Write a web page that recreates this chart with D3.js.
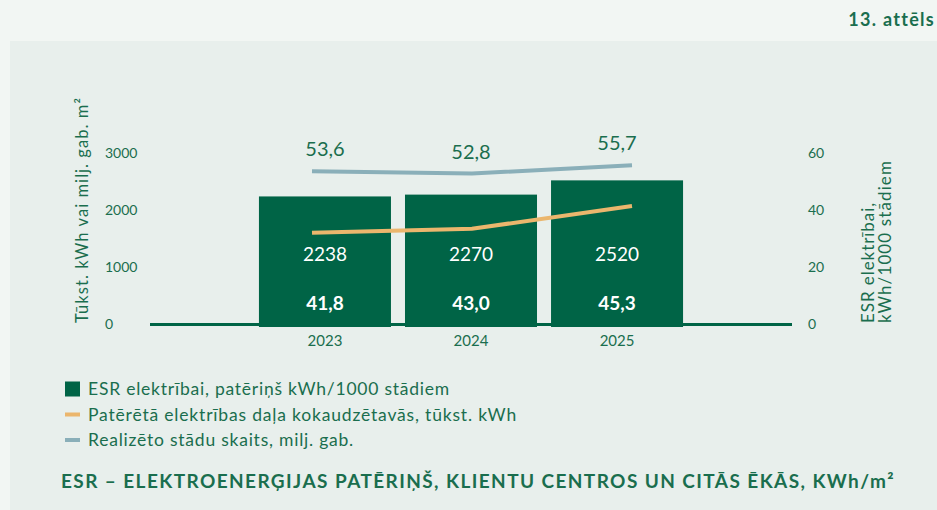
<!DOCTYPE html>
<html lang="lv">
    <head>
        <meta charset="utf-8">
        <title>13. attēls</title>
        <script type="text/javascript" src="https://d3js.org/d3.v7.min.js"></script>
        <style type="text/css">
          body { margin: 0; background: #f2f6f3; }
          text { font-family: Lato, "Open Sans", sans-serif; }
        </style>
    </head>
    <body>
        <script type="text/javascript">
        var w = 937;
        var h = 510;

        // data
        var years = ['2023', '2024', '2025'];
        var barValues = [2238, 2270, 2520];            // tūkst. kWh / milj. gab. m2 (bars)
        var esrValues = ['41,8', '43,0', '45,3'];      // ESR elektrībai, kWh/1000 stādiem
        var kokaudzValues = [1600, 1670, 2070];        // orange line, left axis
        var stadiValues = [53.6, 52.8, 55.7];          // blue line, right axis
        var leftTicks = [0, 1000, 2000, 3000];
        var rightTicks = [0, 20, 40, 60];
        var legendItems = [
          ['ESR elektrībai, patēriņš kWh/1000 stādiem', 'rect'],
          ['Patērētā elektrības daļa kokaudzētavās, tūkst. kWh', 'orange'],
          ['Realizēto stādu skaits, milj. gab.', 'blue']
        ];

        var green = '#006446';
        var textGreen = '#1a6e4e';
        var orange = '#ebb66d';
        var blue = '#8aafb9';

        // stretch letter spacing so the text gets the width of the original font
        var fit = function(sel, width){
          sel.each(function(){
            var len = this.getComputedTextLength();
            var n = this.textContent.length;
            if(n > 1 && width > len){
              d3.select(this).attr("letter-spacing", ((width - len) / n) + "px");
            }
          });
        };

        var svg = d3.select("body").append("svg")
                    .attr("width", w)
                    .attr("height", h);

        svg.append("rect")
           .attr("x", 10).attr("y", 41)
           .attr("width", w - 10).attr("height", h - 41)
           .attr("fill", "#e8efec");

        svg.append("text")
           .attr("x", 935).attr("y", 26)
           .attr("text-anchor", "end")
           .attr("font-size", "18px")
           .attr("font-weight", "bold")
           .attr("fill", textGreen)
           .text("13. attēls")
           .call(fit, 86);

        var yL = d3.scaleLinear().domain([0, 3000]).range([324, 153]);
        var yR = d3.scaleLinear().domain([0, 60]).range([324, 153]);
        var x = d3.scaleBand().domain(years).range([150, 792])
                  .paddingInner(0.096).paddingOuter(0.746);
        var xp = d3.scalePoint().domain(years).range([312, 632]);

        // tick labels
        var gL = svg.append("g").attr("transform", "translate(105,0)")
            .call(d3.axisRight(yL).tickValues(leftTicks).tickSize(0).tickPadding(0)
                    .tickFormat(d3.format("d")));
        var gR = svg.append("g").attr("transform", "translate(808,0)")
            .call(d3.axisRight(yR).tickValues(rightTicks).tickSize(0).tickPadding(0));
        [gL, gR].forEach(function(g){
          g.select(".domain").remove();
          g.selectAll("text")
           .attr("fill", textGreen)
           .attr("font-size", "14px")
           .attr("font-family", "Lato, sans-serif");
        });

        // bars
        svg.selectAll("rect.bar")
          .data(barValues)
          .enter()
          .append("rect")
            .attr("class", "bar")
            .attr("x", function(d, i){ return x(years[i]); })
            .attr("y", function(d){ return yL(d); })
            .attr("width", x.bandwidth())
            .attr("height", function(d){ return yL(0) - yL(d) + 3; })
            .attr("fill", green);

        // baseline
        svg.append("line")
           .attr("x1", 150).attr("x2", 792)
           .attr("y1", yL(0) + 0.5).attr("y2", yL(0) + 0.5)
           .attr("stroke", green)
           .attr("stroke-width", 3);

        // year labels
        var gX = svg.append("g").attr("transform", "translate(0," + yL(0) + ")")
            .call(d3.axisBottom(x).tickSize(0).tickPadding(11));
        gX.select(".domain").remove();
        gX.selectAll("text")
          .attr("fill", textGreen)
          .attr("font-size", "15px")
          .attr("font-family", "Lato, sans-serif");

        // value labels in bars
        svg.selectAll("text.barval")
          .data(barValues)
          .enter()
          .append("text")
            .attr("class", "barval")
            .attr("x", function(d, i){ return x(years[i]) + x.bandwidth()/2; })
            .attr("y", 254)
            .attr("dy", "0.35em")
            .attr("text-anchor", "middle")
            .attr("font-size", "19px")
            .attr("fill", "#fff")
            .text(function(d){ return d; });

        svg.selectAll("text.esr")
          .data(esrValues)
          .enter()
          .append("text")
            .attr("class", "esr")
            .attr("x", function(d, i){ return x(years[i]) + x.bandwidth()/2; })
            .attr("y", 303)
            .attr("dy", "0.35em")
            .attr("text-anchor", "middle")
            .attr("font-size", "19px")
            .attr("font-weight", "bold")
            .attr("fill", "#fff")
            .text(function(d){ return d; });

        // lines
        var lineL = d3.line()
            .x(function(d, i){ return xp(years[i]); })
            .y(function(d){ return yL(d); });
        var lineR = d3.line()
            .x(function(d, i){ return xp(years[i]); })
            .y(function(d){ return yR(d); });

        svg.append("path")
           .datum(stadiValues)
           .attr("fill", "none")
           .attr("stroke", blue)
           .attr("stroke-width", 4)
           .attr("d", lineR);

        svg.append("path")
           .datum(kokaudzValues)
           .attr("fill", "none")
           .attr("stroke", orange)
           .attr("stroke-width", 4)
           .attr("d", lineL);

        svg.selectAll("text.stadi")
          .data(stadiValues)
          .enter()
          .append("text")
            .attr("class", "stadi")
            .attr("x", function(d, i){ return x(years[i]) + x.bandwidth()/2; })
            .attr("y", function(d){ return yR(d) - 22; })
            .attr("dy", "0.35em")
            .attr("text-anchor", "middle")
            .attr("font-size", "20px")
            .attr("fill", textGreen)
            .text(function(d){ return d3.format(".1f")(d).replace(".", ","); });

        // axis titles
        svg.append("text")
           .attr("transform", "translate(88,323) rotate(-90)")
           .attr("font-size", "16.5px")
           .attr("fill", textGreen)
           .text("Tūkst. kWh vai milj. gab. m²")
           .call(fit, 226);

        var rt = svg.append("text")
           .attr("transform", "translate(874,323) rotate(-90)")
           .attr("font-size", "17px")
           .attr("fill", textGreen);
        rt.append("tspan").attr("x", 0).attr("y", 0).text("ESR elektrībai,").call(fit, 121);
        rt.append("tspan").attr("x", 0).attr("y", 17).text("kWh/1000 stādiem").call(fit, 163);

        // legend
        var legWidths = [362, 429, 266];
        var leg = svg.selectAll("g.leg")
          .data(legendItems)
          .enter()
          .append("g")
            .attr("class", "leg")
            .attr("transform", function(d, i){ return "translate(65," + (389 + i * 25.5) + ")"; });

        leg.each(function(d){
          var g = d3.select(this);
          if(d[1] === 'rect'){
            g.append("rect").attr("x", 0).attr("y", -7.5).attr("width", 15).attr("height", 15)
             .attr("fill", green);
          } else {
            g.append("rect").attr("x", 0).attr("y", -2).attr("width", 15).attr("height", 4)
             .attr("fill", d[1] === 'orange' ? orange : blue);
          }
        });

        leg.append("text")
           .attr("x", 23)
           .attr("y", 0)
           .attr("dy", "0.35em")
           .attr("font-size", "17.5px")
           .attr("fill", textGreen)
           .text(function(d){ return d[0]; })
           .each(function(d, i){ d3.select(this).call(fit, legWidths[i]); });

        // bottom title
        svg.append("text")
           .attr("x", 61).attr("y", 481)
           .attr("dy", "0.35em")
           .attr("font-size", "19px")
           .attr("font-weight", "bold")
           .attr("fill", textGreen)
           .text("ESR – ELEKTROENERĢIJAS PATĒRIŅŠ, KLIENTU CENTROS UN CITĀS ĒKĀS, KWh/m²")
           .call(fit, 834);
        </script>
    </body>
</html>
